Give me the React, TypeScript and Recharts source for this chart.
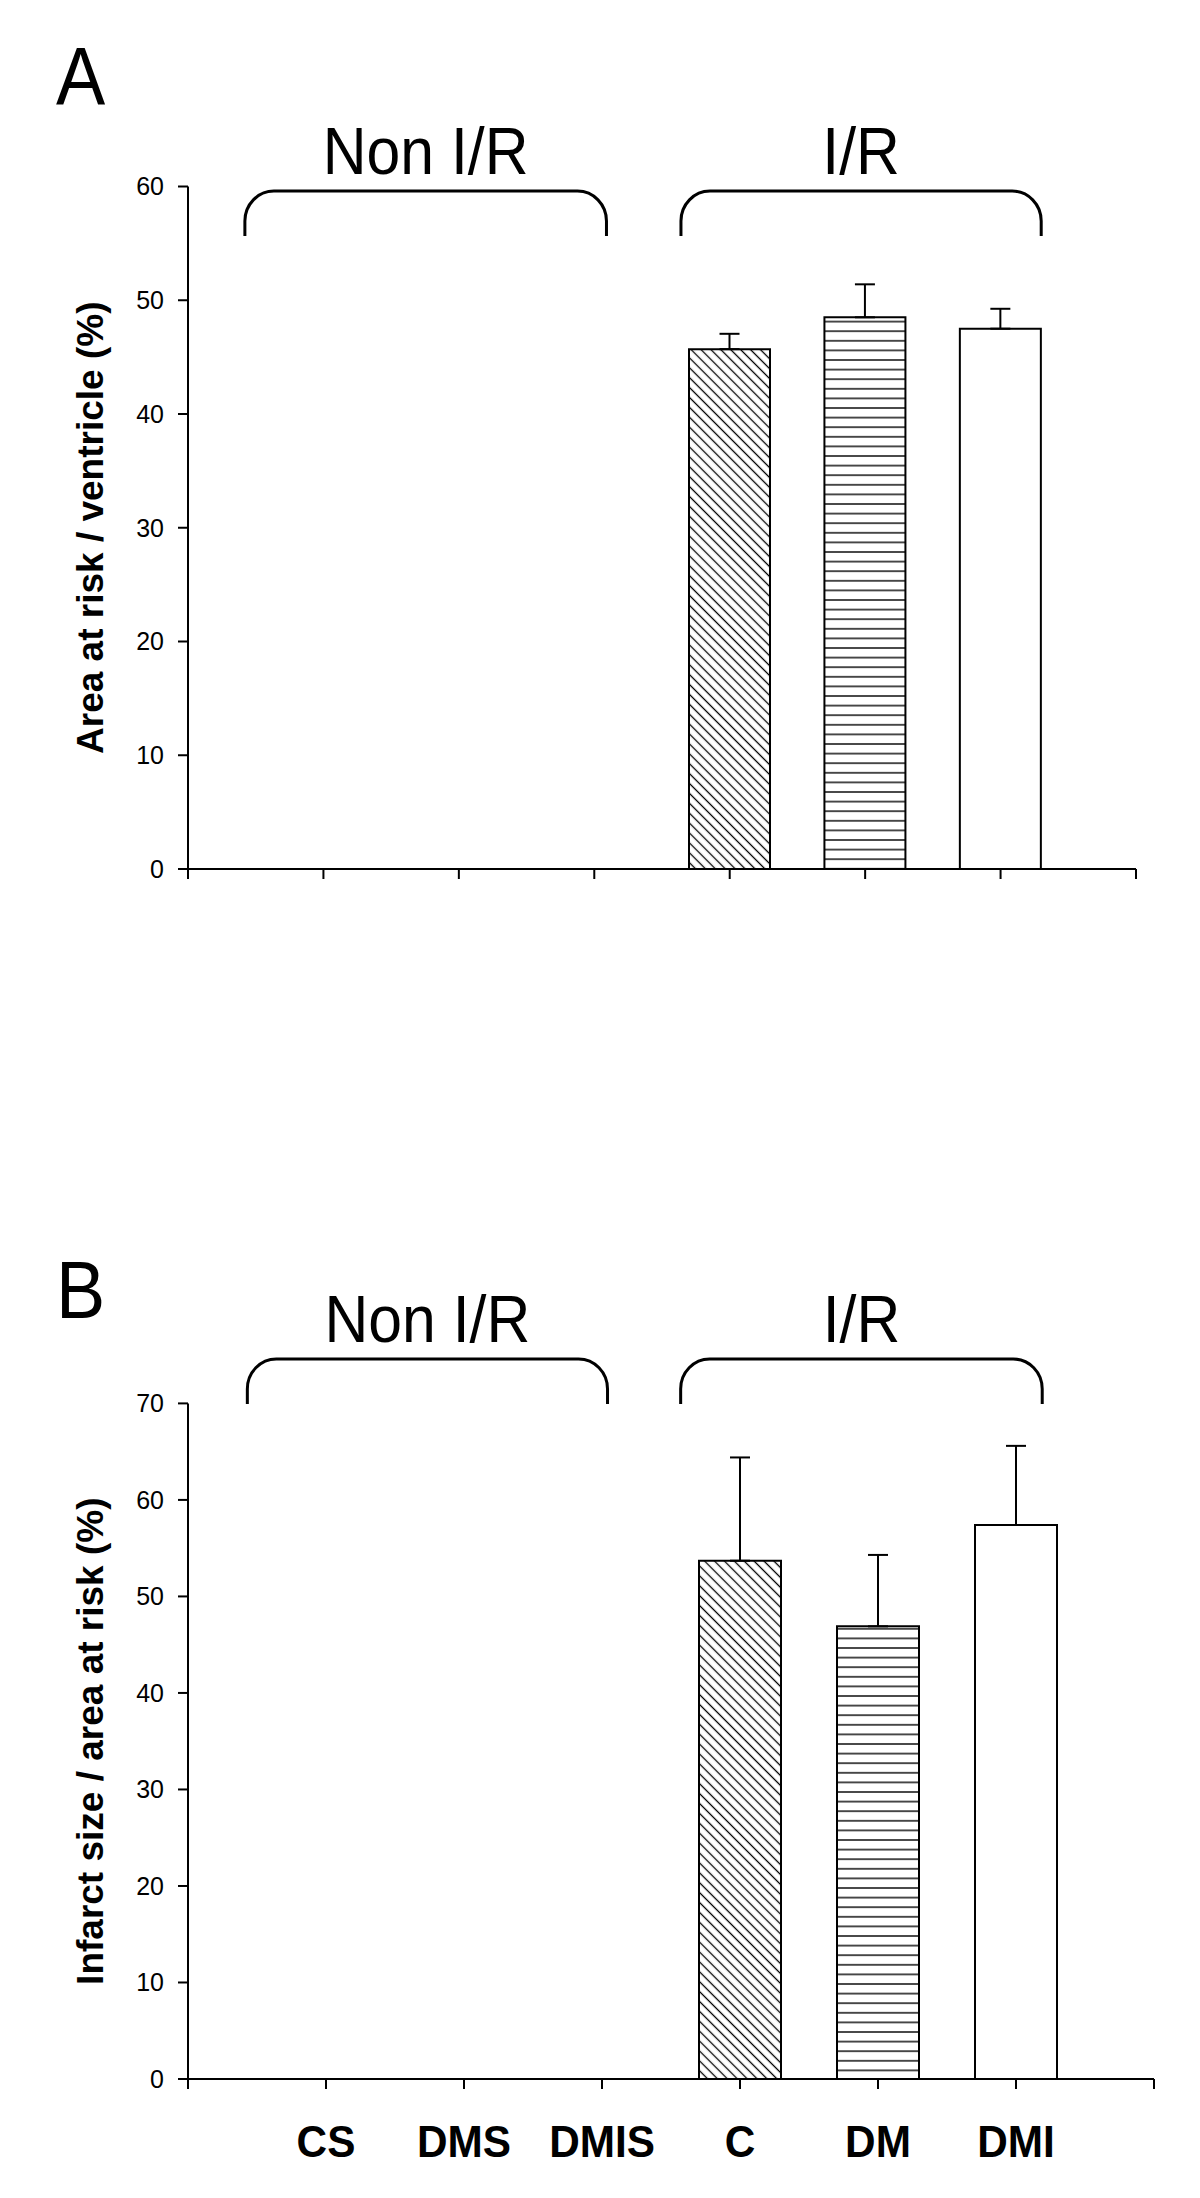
import { BarChart, Bar, XAxis, YAxis, ErrorBar, Cell, ReferenceLine } from "recharts";

const CATEGORIES = ["CS", "DMS", "DMIS", "C", "DM", "DMI"];
const AREA_AT_RISK = [null, null, null, 45.7, 48.5, 47.5];
const AREA_AT_RISK_SEM = [null, null, null, 1.35, 2.9, 1.75];
const INFARCT_SIZE = [null, null, null, 53.7, 46.9, 57.4];
const INFARCT_SIZE_SEM = [null, null, null, 10.7, 7.4, 8.2];
const TICKS_A = [0, 10, 20, 30, 40, 50, 60];
const TICKS_B = [0, 10, 20, 30, 40, 50, 60, 70];
const GROUPS = ["Non I/R", "I/R"];

// bracket spans in x-axis units (category i sits at i + 1)
const BRACKETS_A = [{ from: 0.42, to: 3.09 }, { from: 3.64, to: 6.3 }];
const BRACKETS_B = [{ from: 0.43, to: 3.04 }, { from: 3.57, to: 6.19 }];

const FONT = '"Liberation Sans", Arial, Helvetica, sans-serif';

type Row = { name: string; pos: number; value: number | null; err?: number[] };

function buildRows(values: (number | null)[], sems: (number | null)[]): Row[] {
  return CATEGORIES.map((name, i) => ({
    name,
    pos: i + 1,
    value: values[i],
    err: sems[i] == null ? undefined : [0, sems[i] as number],
  })).filter((r) => r.value != null);
}

function fillFor(prefix: string, name: string) {
  if (name === "C") return `url(#${prefix}-diag)`;
  if (name === "DM") return `url(#${prefix}-horiz)`;
  return "#fff";
}

function Bracket(props: any) {
  const { x1, x2, y1, label } = props;
  const yt = y1;
  const r = 29;
  const d = `M ${x1} ${yt + 45} L ${x1} ${yt + 30} A ${r} 30 0 0 1 ${x1 + r} ${yt} L ${x2 - r} ${yt} A ${r} 30 0 0 1 ${x2} ${yt + 30} L ${x2} ${yt + 45}`;
  const cx = (x1 + x2) / 2;
  return (
    <g>
      <path d={d} fill="none" stroke="#000" strokeWidth={3} />
      <text transform={`translate(${cx},${yt - 17}) scale(0.92,1)`} textAnchor="middle" fontSize={66} fontFamily={FONT} fill="#000">
        {label}
      </text>
    </g>
  );
}

function CategoryTick(props: any) {
  const { x, y, payload } = props;
  const name = CATEGORIES[payload.value - 1] ?? "";
  return (
    <text transform={`translate(${x},${y + 62}) scale(0.94,1)`} textAnchor="middle" fontSize={45} fontWeight={700} fontFamily={FONT} fill="#000">
      {name}
    </text>
  );
}

interface PanelProps {
  prefix: string;
  top: number;
  height: number;
  margin: { top: number; right: number; bottom: number; left: number };
  xAxisHeight: number;
  yMax: number;
  yTicks: number[];
  data: Row[];
  title: string;
  brackets: { from: number; to: number }[];
  bracketY: number;
  barSize: number;
  showLabels: boolean;
}

function Panel(p: PanelProps) {
  const xTicks = Array.from({ length: CATEGORIES.length + 2 }, (_, i) => i);
  return (
    <div style={{ position: "absolute", left: 0, top: p.top }}>
      <BarChart width={1200} height={p.height} data={p.data} margin={p.margin}>
        <defs>
          <pattern id={`${p.prefix}-diag`} patternUnits="userSpaceOnUse" width={7} height={7} patternTransform="rotate(45)">
            <rect width={7} height={7} fill="#fff" />
            <line x1={0} y1={3.5} x2={7} y2={3.5} stroke="#000" strokeWidth={1.3} />
          </pattern>
          <pattern id={`${p.prefix}-horiz`} patternUnits="userSpaceOnUse" width={10} height={9.6}>
            <rect width={10} height={9.6} fill="#fff" />
            <line x1={0} y1={4.8} x2={10} y2={4.8} stroke="#000" strokeWidth={1.4} />
          </pattern>
        </defs>
        <XAxis
          type="number"
          dataKey="pos"
          domain={[0, CATEGORIES.length + 1]}
          ticks={xTicks}
          interval={0}
          height={p.xAxisHeight}
          axisLine={{ stroke: "#000", strokeWidth: 2 }}
          tickLine={{ stroke: "#000", strokeWidth: 2 }}
          tickSize={10}
          tickMargin={6}
          tick={p.showLabels ? <CategoryTick /> : () => <g />}
        />
        <YAxis
          type="number"
          domain={[0, p.yMax]}
          ticks={p.yTicks}
          interval={0}
          width={188}
          axisLine={{ stroke: "#000", strokeWidth: 2 }}
          tickLine={{ stroke: "#000", strokeWidth: 2 }}
          tickSize={10}
          tickMargin={14}
          tick={{ fill: "#000", fontSize: 25, fontFamily: FONT }}
          label={(lp: any) => {
            const vb = lp.viewBox;
            const cx = vb.x + 103;
            const cy = vb.y + vb.height / 2;
            return (
              <text x={cx} y={cy} transform={`rotate(-90 ${cx} ${cy})`} textAnchor="middle" fontSize={37} fontWeight={700} fontFamily={FONT} fill="#000">
                {p.title}
              </text>
            );
          }}
        />
        {p.brackets.map((b, i) => (
          <ReferenceLine
            key={GROUPS[i]}
            segment={[{ x: b.from, y: p.bracketY }, { x: b.to, y: p.bracketY }]}
            ifOverflow="visible"
            shape={(sp: any) => <Bracket {...sp} label={GROUPS[i]} />}
          />
        ))}
        <Bar dataKey="value" barSize={p.barSize} stroke="#000" strokeWidth={2} isAnimationActive={false}>
          {p.data.map((d) => (
            <Cell key={d.name} fill={fillFor(p.prefix, d.name)} />
          ))}
          <ErrorBar dataKey="err" direction="y" width={10} stroke="#000" strokeWidth={2} />
        </Bar>
      </BarChart>
    </div>
  );
}

export default function App() {
  return (
    <div style={{ position: "absolute", left: 0, top: 0, width: 1200, height: 2198, background: "#fff", fontFamily: FONT }}>
      <Panel
        prefix="a"
        top={0}
        height={960}
        margin={{ top: 186.5, right: 64, bottom: 51, left: 0 }}
        xAxisHeight={40}
        yMax={60}
        yTicks={TICKS_A}
        data={buildRows(AREA_AT_RISK, AREA_AT_RISK_SEM)}
        title="Area at risk / ventricle (%)"
        brackets={BRACKETS_A}
        bracketY={59.6}
        barSize={81}
        showLabels={false}
      />
      <Panel
        prefix="b"
        top={1000}
        height={1198}
        margin={{ top: 403.4, right: 46, bottom: 19, left: 0 }}
        xAxisHeight={100}
        yMax={70}
        yTicks={TICKS_B}
        data={buildRows(INFARCT_SIZE, INFARCT_SIZE_SEM)}
        title="Infarct size / area at risk (%)"
        brackets={BRACKETS_B}
        bracketY={74.6}
        barSize={82}
        showLabels={true}
      />
      <svg width={1200} height={2198} style={{ position: "absolute", left: 0, top: 0, pointerEvents: "none" }}>
        <text transform="translate(56,104) scale(0.9,1)" fontSize={82} fontFamily={FONT} fill="#000">A</text>
        <text transform="translate(56,1318) scale(0.9,1)" fontSize={82} fontFamily={FONT} fill="#000">B</text>
      </svg>
    </div>
  );
}
